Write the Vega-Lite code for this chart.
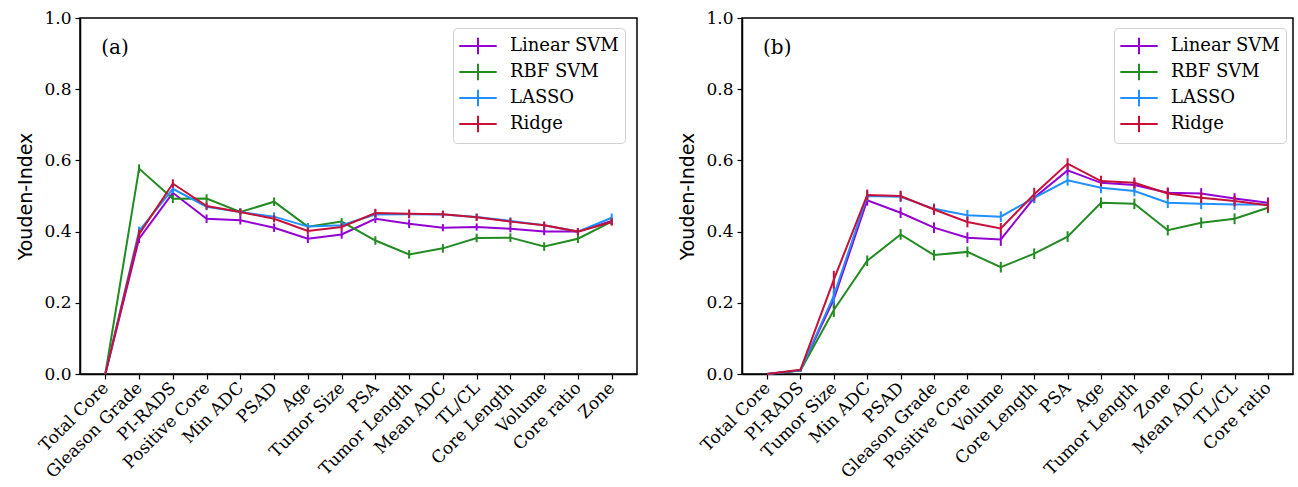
{
  "$schema": "https://vega.github.io/schema/vega-lite/v6.json",
  "background": "white",
  "padding": {"left": 16, "top": 8, "right": 2, "bottom": 5},
  "spacing": 40,
  "datasets": {
    "a": [
      {"f":"Total Core","m":"Linear SVM","v":0,"e":0},{"f":"Gleason Grade","m":"Linear SVM","v":0.38,"e":0.012},{"f":"PI-RADS","m":"Linear SVM","v":0.509,"e":0.012},{"f":"Positive Core","m":"Linear SVM","v":0.436,"e":0.012},{"f":"Min ADC","m":"Linear SVM","v":0.432,"e":0.012},{"f":"PSAD","m":"Linear SVM","v":0.411,"e":0.012},{"f":"Age","m":"Linear SVM","v":0.38,"e":0.012},{"f":"Tumor Size","m":"Linear SVM","v":0.392,"e":0.012},{"f":"PSA","m":"Linear SVM","v":0.436,"e":0.012},{"f":"Tumor Length","m":"Linear SVM","v":0.422,"e":0.012},{"f":"Mean ADC","m":"Linear SVM","v":0.411,"e":0.01},{"f":"TL/CL","m":"Linear SVM","v":0.413,"e":0.01},{"f":"Core Length","m":"Linear SVM","v":0.408,"e":0.01},{"f":"Volume","m":"Linear SVM","v":0.4,"e":0.01},{"f":"Core ratio","m":"Linear SVM","v":0.4,"e":0.01},{"f":"Zone","m":"Linear SVM","v":0.43,"e":0.01},
      {"f":"Total Core","m":"RBF SVM","v":0,"e":0},{"f":"Gleason Grade","m":"RBF SVM","v":0.577,"e":0.012},{"f":"PI-RADS","m":"RBF SVM","v":0.492,"e":0.012},{"f":"Positive Core","m":"RBF SVM","v":0.493,"e":0.012},{"f":"Min ADC","m":"RBF SVM","v":0.455,"e":0.01},{"f":"PSAD","m":"RBF SVM","v":0.484,"e":0.012},{"f":"Age","m":"RBF SVM","v":0.414,"e":0.01},{"f":"Tumor Size","m":"RBF SVM","v":0.428,"e":0.01},{"f":"PSA","m":"RBF SVM","v":0.375,"e":0.012},{"f":"Tumor Length","m":"RBF SVM","v":0.336,"e":0.012},{"f":"Mean ADC","m":"RBF SVM","v":0.353,"e":0.012},{"f":"TL/CL","m":"RBF SVM","v":0.382,"e":0.012},{"f":"Core Length","m":"RBF SVM","v":0.383,"e":0.012},{"f":"Volume","m":"RBF SVM","v":0.358,"e":0.012},{"f":"Core ratio","m":"RBF SVM","v":0.38,"e":0.012},{"f":"Zone","m":"RBF SVM","v":0.428,"e":0.01},
      {"f":"Total Core","m":"LASSO","v":0,"e":0},{"f":"Gleason Grade","m":"LASSO","v":0.402,"e":0.012},{"f":"PI-RADS","m":"LASSO","v":0.52,"e":0.012},{"f":"Positive Core","m":"LASSO","v":0.47,"e":0.01},{"f":"Min ADC","m":"LASSO","v":0.455,"e":0.01},{"f":"PSAD","m":"LASSO","v":0.442,"e":0.012},{"f":"Age","m":"LASSO","v":0.414,"e":0.01},{"f":"Tumor Size","m":"LASSO","v":0.418,"e":0.01},{"f":"PSA","m":"LASSO","v":0.448,"e":0.012},{"f":"Tumor Length","m":"LASSO","v":0.449,"e":0.012},{"f":"Mean ADC","m":"LASSO","v":0.448,"e":0.01},{"f":"TL/CL","m":"LASSO","v":0.441,"e":0.01},{"f":"Core Length","m":"LASSO","v":0.43,"e":0.01},{"f":"Volume","m":"LASSO","v":0.418,"e":0.01},{"f":"Core ratio","m":"LASSO","v":0.4,"e":0.01},{"f":"Zone","m":"LASSO","v":0.439,"e":0.012},
      {"f":"Total Core","m":"Ridge","v":0,"e":0},{"f":"Gleason Grade","m":"Ridge","v":0.393,"e":0.012},{"f":"PI-RADS","m":"Ridge","v":0.535,"e":0.012},{"f":"Positive Core","m":"Ridge","v":0.472,"e":0.01},{"f":"Min ADC","m":"Ridge","v":0.455,"e":0.01},{"f":"PSAD","m":"Ridge","v":0.436,"e":0.01},{"f":"Age","m":"Ridge","v":0.402,"e":0.01},{"f":"Tumor Size","m":"Ridge","v":0.413,"e":0.01},{"f":"PSA","m":"Ridge","v":0.452,"e":0.012},{"f":"Tumor Length","m":"Ridge","v":0.45,"e":0.012},{"f":"Mean ADC","m":"Ridge","v":0.449,"e":0.01},{"f":"TL/CL","m":"Ridge","v":0.44,"e":0.01},{"f":"Core Length","m":"Ridge","v":0.428,"e":0.01},{"f":"Volume","m":"Ridge","v":0.418,"e":0.01},{"f":"Core ratio","m":"Ridge","v":0.4,"e":0.01},{"f":"Zone","m":"Ridge","v":0.427,"e":0.01}
    ],
    "b": [
      {"f":"Total Core","m":"Linear SVM","v":0,"e":0},{"f":"PI-RADS","m":"Linear SVM","v":0.01,"e":0.003},{"f":"Tumor Size","m":"Linear SVM","v":0.21,"e":0.025},{"f":"Min ADC","m":"Linear SVM","v":0.488,"e":0.015},{"f":"PSAD","m":"Linear SVM","v":0.453,"e":0.015},{"f":"Gleason Grade","m":"Linear SVM","v":0.411,"e":0.015},{"f":"Positive Core","m":"Linear SVM","v":0.383,"e":0.015},{"f":"Volume","m":"Linear SVM","v":0.378,"e":0.018},{"f":"Core Length","m":"Linear SVM","v":0.495,"e":0.015},{"f":"PSA","m":"Linear SVM","v":0.572,"e":0.015},{"f":"Age","m":"Linear SVM","v":0.537,"e":0.015},{"f":"Tumor Length","m":"Linear SVM","v":0.531,"e":0.015},{"f":"Zone","m":"Linear SVM","v":0.509,"e":0.015},{"f":"Mean ADC","m":"Linear SVM","v":0.507,"e":0.015},{"f":"TL/CL","m":"Linear SVM","v":0.493,"e":0.015},{"f":"Core ratio","m":"Linear SVM","v":0.481,"e":0.015},
      {"f":"Total Core","m":"RBF SVM","v":0,"e":0},{"f":"PI-RADS","m":"RBF SVM","v":0.01,"e":0.003},{"f":"Tumor Size","m":"RBF SVM","v":0.18,"e":0.02},{"f":"Min ADC","m":"RBF SVM","v":0.318,"e":0.015},{"f":"PSAD","m":"RBF SVM","v":0.392,"e":0.015},{"f":"Gleason Grade","m":"RBF SVM","v":0.334,"e":0.015},{"f":"Positive Core","m":"RBF SVM","v":0.343,"e":0.015},{"f":"Volume","m":"RBF SVM","v":0.3,"e":0.015},{"f":"Core Length","m":"RBF SVM","v":0.338,"e":0.015},{"f":"PSA","m":"RBF SVM","v":0.386,"e":0.015},{"f":"Age","m":"RBF SVM","v":0.481,"e":0.015},{"f":"Tumor Length","m":"RBF SVM","v":0.478,"e":0.015},{"f":"Zone","m":"RBF SVM","v":0.404,"e":0.015},{"f":"Mean ADC","m":"RBF SVM","v":0.425,"e":0.015},{"f":"TL/CL","m":"RBF SVM","v":0.436,"e":0.015},{"f":"Core ratio","m":"RBF SVM","v":0.467,"e":0.015},
      {"f":"Total Core","m":"LASSO","v":0,"e":0},{"f":"PI-RADS","m":"LASSO","v":0.01,"e":0.003},{"f":"Tumor Size","m":"LASSO","v":0.22,"e":0.025},{"f":"Min ADC","m":"LASSO","v":0.5,"e":0.015},{"f":"PSAD","m":"LASSO","v":0.498,"e":0.015},{"f":"Gleason Grade","m":"LASSO","v":0.464,"e":0.015},{"f":"Positive Core","m":"LASSO","v":0.446,"e":0.015},{"f":"Volume","m":"LASSO","v":0.442,"e":0.015},{"f":"Core Length","m":"LASSO","v":0.495,"e":0.015},{"f":"PSA","m":"LASSO","v":0.544,"e":0.015},{"f":"Age","m":"LASSO","v":0.523,"e":0.015},{"f":"Tumor Length","m":"LASSO","v":0.514,"e":0.015},{"f":"Zone","m":"LASSO","v":0.481,"e":0.015},{"f":"Mean ADC","m":"LASSO","v":0.478,"e":0.015},{"f":"TL/CL","m":"LASSO","v":0.476,"e":0.015},{"f":"Core ratio","m":"LASSO","v":0.476,"e":0.015},
      {"f":"Total Core","m":"Ridge","v":0,"e":0},{"f":"PI-RADS","m":"Ridge","v":0.012,"e":0.003},{"f":"Tumor Size","m":"Ridge","v":0.265,"e":0.025},{"f":"Min ADC","m":"Ridge","v":0.503,"e":0.015},{"f":"PSAD","m":"Ridge","v":0.5,"e":0.015},{"f":"Gleason Grade","m":"Ridge","v":0.462,"e":0.015},{"f":"Positive Core","m":"Ridge","v":0.427,"e":0.015},{"f":"Volume","m":"Ridge","v":0.409,"e":0.015},{"f":"Core Length","m":"Ridge","v":0.505,"e":0.018},{"f":"PSA","m":"Ridge","v":0.591,"e":0.015},{"f":"Age","m":"Ridge","v":0.542,"e":0.015},{"f":"Tumor Length","m":"Ridge","v":0.537,"e":0.015},{"f":"Zone","m":"Ridge","v":0.507,"e":0.015},{"f":"Mean ADC","m":"Ridge","v":0.495,"e":0.015},{"f":"TL/CL","m":"Ridge","v":0.486,"e":0.015},{"f":"Core ratio","m":"Ridge","v":0.474,"e":0.018}
    ]
  },
  "hconcat": [
    {
      "width": 557,
      "height": 356,
      "data": {"name": "a"},
      "layer": [
        {
          "mark": {"type": "line", "strokeWidth": 2},
          "encoding": {
            "x": {"field": "f", "type": "nominal", "title": null,
              "scale": {"type": "point", "padding": 0.75, "domain": ["Total Core","Gleason Grade","PI-RADS","Positive Core","Min ADC","PSAD","Age","Tumor Size","PSA","Tumor Length","Mean ADC","TL/CL","Core Length","Volume","Core ratio","Zone"]},
              "axis": {"labelAngle": -45, "labelAlign": "right", "labelBaseline": "middle", "labelPadding": 6}},
            "y": {"field": "v", "type": "quantitative", "title": "Youden-Index",
              "scale": {"domain": [0, 1], "nice": false},
              "axis": {"values": [0, 0.2, 0.4, 0.6, 0.8, 1], "format": ".1f"}},
            "color": {"field": "m", "type": "nominal",
              "scale": {"domain": ["Linear SVM","RBF SVM","LASSO","Ridge"], "range": ["#9400D3","#228B22","#1E90FF","#C71038"]},
              "legend": {"title": null, "orient": "none", "legendX": 373, "legendY": 10, "symbolType": "M-1.7,0H1.7M0,-0.75V0.75", "symbolSize": 484, "symbolStrokeWidth": 2}}
          }
        },
        {
          "mark": {"type": "errorbar", "thickness": 2},
          "encoding": {
            "x": {"field": "f", "type": "nominal", "title": null},
            "y": {"field": "v", "type": "quantitative", "title": "Youden-Index"},
            "yError": {"field": "e"},
            "color": {"field": "m", "type": "nominal"}
          }
        },
        {
          "data": {"values": [{"t": "(a)", "f": "Total Core", "v": 0.916}]},
          "mark": {"type": "text", "align": "left", "baseline": "middle", "dx": -4, "fontSize": 20, "font": "DejaVu Serif", "color": "black"},
          "encoding": {
            "x": {"field": "f", "type": "nominal", "title": null},
            "y": {"field": "v", "type": "quantitative", "title": "Youden-Index"},
            "text": {"field": "t"}
          }
        }
      ]
    },
    {
      "width": 551,
      "height": 356,
      "data": {"name": "b"},
      "layer": [
        {
          "mark": {"type": "line", "strokeWidth": 2},
          "encoding": {
            "x": {"field": "f", "type": "nominal", "title": null,
              "scale": {"type": "point", "padding": 0.75, "domain": ["Total Core","PI-RADS","Tumor Size","Min ADC","PSAD","Gleason Grade","Positive Core","Volume","Core Length","PSA","Age","Tumor Length","Zone","Mean ADC","TL/CL","Core ratio"]},
              "axis": {"labelAngle": -45, "labelAlign": "right", "labelBaseline": "middle", "labelPadding": 6}},
            "y": {"field": "v", "type": "quantitative", "title": "Youden-Index",
              "scale": {"domain": [0, 1], "nice": false},
              "axis": {"values": [0, 0.2, 0.4, 0.6, 0.8, 1], "format": ".1f"}},
            "color": {"field": "m", "type": "nominal",
              "scale": {"domain": ["Linear SVM","RBF SVM","LASSO","Ridge"], "range": ["#9400D3","#228B22","#1E90FF","#C71038"]},
              "legend": {"title": null, "orient": "none", "legendX": 372, "legendY": 10, "symbolType": "M-1.7,0H1.7M0,-0.75V0.75", "symbolSize": 484, "symbolStrokeWidth": 2}}
          }
        },
        {
          "mark": {"type": "errorbar", "thickness": 2},
          "encoding": {
            "x": {"field": "f", "type": "nominal", "title": null},
            "y": {"field": "v", "type": "quantitative", "title": "Youden-Index"},
            "yError": {"field": "e"},
            "color": {"field": "m", "type": "nominal"}
          }
        },
        {
          "data": {"values": [{"t": "(b)", "f": "Total Core", "v": 0.916}]},
          "mark": {"type": "text", "align": "left", "baseline": "middle", "dx": -4, "fontSize": 20, "font": "DejaVu Serif", "color": "black"},
          "encoding": {
            "x": {"field": "f", "type": "nominal", "title": null},
            "y": {"field": "v", "type": "quantitative", "title": "Youden-Index"},
            "text": {"field": "t"}
          }
        }
      ]
    }
  ],
  "resolve": {"scale": {"color": "independent"}, "legend": {"color": "independent"}},
  "config": {
    "view": {"stroke": "black", "strokeWidth": 1.5},
    "axis": {"labelFont": "DejaVu Serif", "labelFontSize": 17, "labelColor": "black", "tickColor": "black", "domainColor": "black", "domainWidth": 1.5, "tickWidth": 1.2, "tickSize": 5, "grid": false, "titleFont": "DejaVu Sans", "titleFontSize": 19, "titleFontWeight": "normal", "titleColor": "black", "titlePadding": 8, "labelPadding": 4},
    "legend": {"labelFont": "DejaVu Serif", "labelFontSize": 18, "labelColor": "black", "fillColor": "white", "strokeColor": "#d0d0d0", "cornerRadius": 4, "padding": 6, "rowPadding": 0, "symbolOffset": 7, "labelOffset": 20}
  }
}
